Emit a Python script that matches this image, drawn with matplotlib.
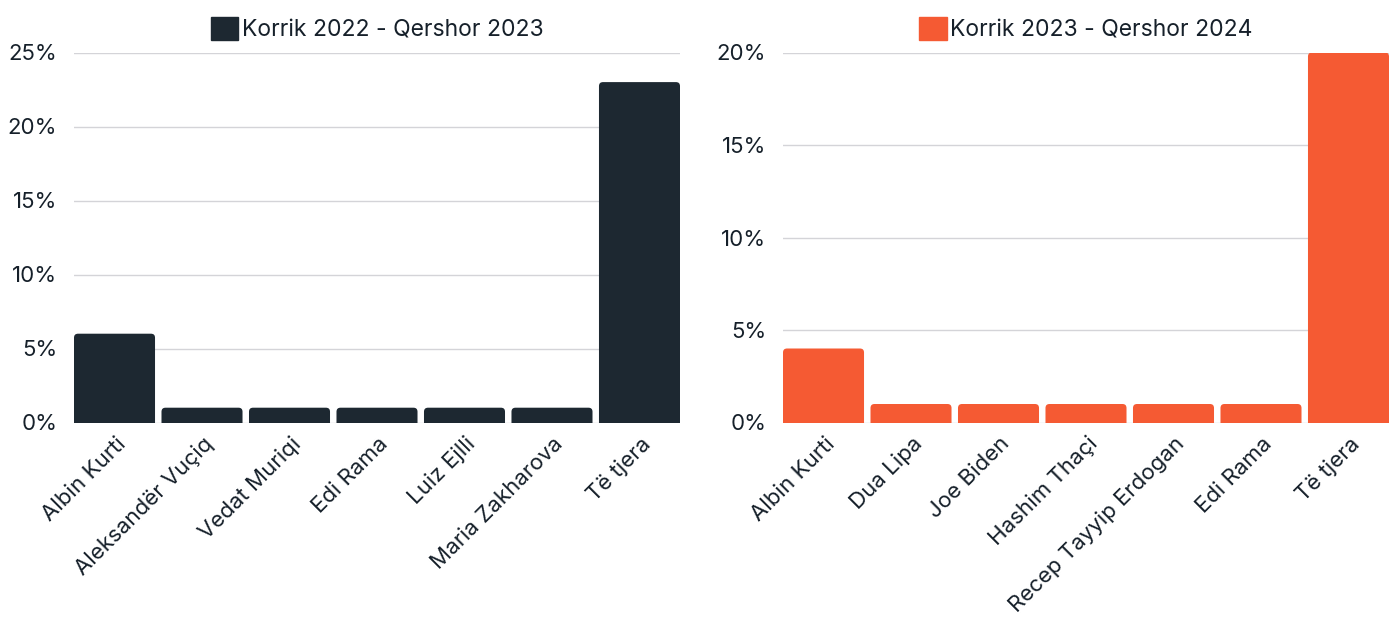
import matplotlib.pyplot as plt
import matplotlib.transforms as mtransforms
from matplotlib.patches import FancyBboxPatch, Rectangle

plt.rcParams['font.family'] = ['Inter', 'DejaVu Sans']

left_names = ['Albin Kurti', 'Aleksandër Vuçiq', 'Vedat Muriqi', 'Edi Rama',
              'Luiz Ejlli', 'Maria Zakharova', 'Të tjera']
left_vals = [6, 1, 1, 1, 1, 1, 23]
left_label = 'Korrik 2022 - Qershor 2023'
left_ticks = [0, 5, 10, 15, 20, 25]

right_names = ['Albin Kurti', 'Dua Lipa', 'Joe Biden', 'Hashim Thaçi',
               'Recep Tayyip Erdogan', 'Edi Rama', 'Të tjera']
right_vals = [4, 1, 1, 1, 1, 1, 20]
right_label = 'Korrik 2023 - Qershor 2024'
right_ticks = [0, 5, 10, 15, 20]

dark = '#1d2831'
orange = '#f55a33'
text_c = '#16202a'

fig = plt.figure(figsize=(13.97, 6.21), dpi=100)
ax1 = fig.add_axes([74 / 1397, 198.5 / 621, 606 / 1397, 370 / 621])
ax2 = fig.add_axes([783 / 1397, 198.5 / 621, 606 / 1397, 370 / 621])

W = 0.926


def draw(ax, names, vals, color, label, ticks):
    ax.set_xlim(-W / 2, len(names) - 1 + W / 2)
    ax.set_ylim(0, ticks[-1])
    bars = ax.bar(range(len(names)), vals, width=W, color=color, zorder=3)
    # round top corners
    bbox = ax.get_position()
    px_x = bbox.width * 1397 / (ax.get_xlim()[1] - ax.get_xlim()[0])
    px_y = bbox.height * 621 / (ax.get_ylim()[1] - ax.get_ylim()[0])
    r = 4 / px_x
    for b in bars:
        x, w, h = b.get_x(), b.get_width(), b.get_height()
        p = FancyBboxPatch((x, -1), w, h + 1,
                           boxstyle=f'round,pad=0,rounding_size={r}',
                           mutation_aspect=px_x / px_y,
                           facecolor=color, edgecolor='none', zorder=3)
        ax.add_patch(p)
        b.remove()
    ax.set_yticks(ticks)
    ax.set_yticklabels([f'{t}%' for t in ticks])
    ax.set_xticks(range(len(names)))
    ax.set_xticklabels(names, rotation=45, ha='right', va='center',
                       rotation_mode='anchor')
    ax.tick_params(axis='both', length=0, labelsize=16, colors=text_c)
    ax.tick_params(axis='y', pad=12)
    ax.tick_params(axis='x', pad=13)
    off = mtransforms.ScaledTranslation(8 / 100, 0, fig.dpi_scale_trans)
    for t in ax.get_xticklabels():
        t.set_transform(t.get_transform() + off)
    ax.grid(axis='y', color='#d4d4d8', lw=1, zorder=0)
    for s in ax.spines.values():
        s.set_visible(False)
    ax.legend([Rectangle((0, 0), 1, 1, color=color)], [label],
              loc='center', bbox_to_anchor=(0.5, 1.0635),
              frameon=False, fontsize=16.5, handlelength=1.2,
              handleheight=1.2, handletextpad=0.15, borderpad=0,
              borderaxespad=0, labelcolor=text_c)


draw(ax1, left_names, left_vals, dark, left_label, left_ticks)
draw(ax2, right_names, right_vals, orange, right_label, right_ticks)

fig.savefig('out.png', dpi=100)
